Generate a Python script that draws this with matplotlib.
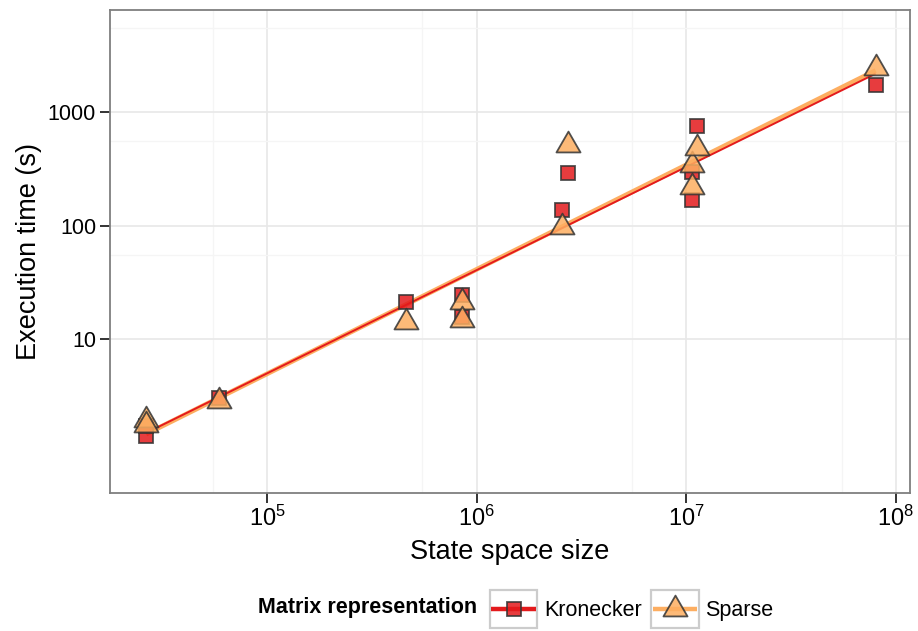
import numpy as np
import matplotlib
matplotlib.use("Agg")
import matplotlib.pyplot as plt
from matplotlib.ticker import FixedLocator, FixedFormatter, NullFormatter
from matplotlib.legend_handler import HandlerBase
from matplotlib.patches import Rectangle
from matplotlib.lines import Line2D
from matplotlib.path import Path

plt.rcParams['font.family'] = ['Liberation Sans', 'DejaVu Sans']
plt.rcParams['mathtext.fontset'] = 'custom'
plt.rcParams['mathtext.rm'] = 'Liberation Sans'
plt.rcParams['mathtext.it'] = 'Liberation Sans:italic'

# state space size and execution time (s) per run
kron_size = [2.65e4, 2.65e4, 5.9e4, 4.6e5, 8.5e5, 8.5e5, 2.55e6, 2.72e6, 1.06e7, 1.06e7, 1.12e7, 8.0e7]
kron_time = [1.40, 1.70, 3.02, 21.2, 24.5, 15.6, 137, 290, 296, 168, 753, 1730]
sparse_size = [2.65e4, 2.65e4, 5.9e4, 4.6e5, 8.5e5, 8.5e5, 2.55e6, 2.72e6, 1.06e7, 1.06e7, 1.12e7, 8.0e7]
sparse_time = [1.95, 1.75, 2.85, 14.1, 21.2, 14.7, 97, 512, 341, 218, 482, 2445]

x_breaks = [1e5, 1e6, 1e7, 1e8]
x_labels = [r'$\mathregular{10^5}$', r'$\mathregular{10^6}$',
            r'$\mathregular{10^7}$', r'$\mathregular{10^8}$']
x_minor = [5.5e4, 5.5e5, 5.5e6, 5.5e7]
y_breaks = [10, 100, 1000]
y_labels = ['10', '100', '1000']
y_minor = [55, 550, 5500]

RED = '#e31a1c'
ORANGE = '#fdae61'
EDGE = '#333333'

# equilateral triangle like R's pch 24
tri = Path([(-1, -0.577), (1, -0.577), (0, 1.155), (-1, -0.577)],
           [Path.MOVETO, Path.LINETO, Path.LINETO, Path.CLOSEPOLY])

# name, x, y, colour, marker, marker size, fit line width, line zorder
groups = [
    ('Kronecker', kron_size, kron_time, RED, 's', 10.5, 1.4, 2.5),
    ('Sparse', sparse_size, sparse_time, ORANGE, tri, 20, 3.4, 2),
]

fig = plt.figure(figsize=(9.18, 6.31), dpi=100)
ax = fig.add_axes([110 / 918, 1 - 493 / 631, 800 / 918, 483 / 631])
ax.set_xscale('log')
ax.set_yscale('log')

# linear fits in log-log space
for name, xs, ys, col, mk, ms, lw, z in groups:
    lx, ly = np.log10(xs), np.log10(ys)
    slope, icpt = np.polyfit(lx, ly, 1)
    fx = np.array([lx.min(), lx.max()])
    ax.plot(10 ** fx, 10 ** (icpt + slope * fx), color=col, lw=lw, zorder=z,
            solid_capstyle='butt')

for name, xs, ys, col, mk, ms, lw, z in groups:
    ax.plot(xs, ys, ls='none', marker=mk, ms=ms, mfc=col, mec=EDGE, mew=1.3,
            alpha=0.85, zorder=3)

ax.set_xlim(10 ** 4.251, 10 ** 8.067)
ax.set_ylim(10 ** -0.357, 10 ** 3.899)

ax.xaxis.set_major_locator(FixedLocator(x_breaks))
ax.xaxis.set_major_formatter(FixedFormatter(x_labels))
ax.xaxis.set_minor_locator(FixedLocator(x_minor))
ax.xaxis.set_minor_formatter(NullFormatter())
ax.yaxis.set_major_locator(FixedLocator(y_breaks))
ax.yaxis.set_major_formatter(FixedFormatter(y_labels))
ax.yaxis.set_minor_locator(FixedLocator(y_minor))
ax.yaxis.set_minor_formatter(NullFormatter())

ax.tick_params(which='major', direction='out', length=7, width=1.4, color='#333333',
               labelsize=15.5, pad=3)
ax.tick_params(axis='x', which='major', labelsize=17, pad=2)
ax.tick_params(which='minor', length=0)
ax.grid(which='major', color='#e8e8e8', lw=1.2, zorder=0)
ax.grid(which='minor', color='#f5f5f5', lw=1.0, zorder=0)
ax.set_axisbelow(True)
for sp in ax.spines.values():
    sp.set_color('#7f7f7f')
    sp.set_linewidth(1.3)

ax.set_xlabel('State space size', fontsize=19.5, labelpad=6)
ax.set_ylabel('Execution time (s)', fontsize=19.5, labelpad=4)


class KeyHandler(HandlerBase):
    """Legend key: grey-bordered box with the fit line and marker."""

    def create_artists(self, legend, orig_handle, xdescent, ydescent, width, height,
                       fontsize, trans):
        col, mk, ms = orig_handle
        x0, y0 = -xdescent, -ydescent
        box = Rectangle((x0, y0), width, height, fc='white', ec='#cccccc', lw=1.6,
                        transform=trans)
        cy = y0 + height / 2
        line = Line2D([x0 + 1, x0 + width - 1], [cy, cy], color=col, lw=3.2,
                      solid_capstyle='butt', transform=trans)
        mark = Line2D([x0 + width / 2], [cy], ls='none', marker=mk, ms=ms, mfc=col,
                      mec=EDGE, mew=1.3, alpha=0.85, transform=trans)
        return [box, line, mark]


handles = [(g[3], g[4], g[5]) for g in groups]
labels = [g[0] for g in groups]
fig.text(258 / 918, 1 - 608 / 631, 'Matrix representation', fontsize=15.5,
         fontweight='bold', va='center', ha='left')
fig.legend(handles, labels, handler_map={tuple: KeyHandler()}, loc='center left',
           bbox_to_anchor=(490 / 918, 1 - 609 / 631), ncol=2, frameon=False,
           fontsize=15.5, handlelength=2.2, handleheight=2.4, handletextpad=0.3,
           columnspacing=0.45, borderpad=0, borderaxespad=0)

fig.savefig('out.png', dpi=100)
